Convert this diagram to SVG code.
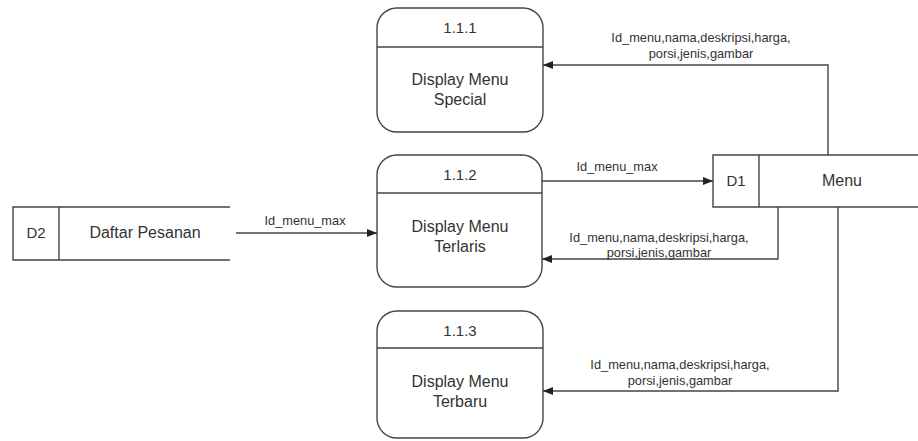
<svg xmlns="http://www.w3.org/2000/svg" width="918" height="441" viewBox="0 0 918 441">
<defs>
<style>
.box{fill:#fff;stroke:#444;stroke-width:1.4}
.ln{fill:none;stroke:#444;stroke-width:1.4}
.t{font-family:"Liberation Sans",Arial,sans-serif;fill:#333;text-anchor:middle}
.big{font-size:16px}
.hd{font-size:15px}
.lb{font-size:12.8px}
</style>
<marker id="ah" viewBox="0 0 10 8" refX="10" refY="4" markerWidth="10" markerHeight="8" markerUnits="userSpaceOnUse" orient="auto">
<path d="M0,0 L10,4 L0,8 Z" fill="#222"/>
</marker>
</defs>
<rect width="918" height="441" fill="#fff"/>

<g id="p111">
<rect class="box" x="377" y="8" width="166" height="124" rx="20"/>
<line class="ln" x1="377" y1="47" x2="543" y2="47"/>
<text class="t hd" x="460" y="33">1.1.1</text>
<text class="t big" x="460" y="85">Display Menu</text>
<text class="t big" x="460" y="105">Special</text>
</g>

<g id="p112">
<rect class="box" x="377" y="155" width="165" height="132" rx="20"/>
<line class="ln" x1="377" y1="193" x2="542" y2="193"/>
<text class="t hd" x="460" y="180">1.1.2</text>
<text class="t big" x="460" y="232">Display Menu</text>
<text class="t big" x="460" y="252">Terlaris</text>
</g>

<g id="p113">
<rect class="box" x="377" y="311" width="166" height="127" rx="20"/>
<line class="ln" x1="377" y1="348" x2="543" y2="348"/>
<text class="t hd" x="460" y="336">1.1.3</text>
<text class="t big" x="460" y="387">Display Menu</text>
<text class="t big" x="460" y="407">Terbaru</text>
</g>

<g id="d1">
<path class="ln" d="M918,155 H713 V207 H918"/>
<line class="ln" x1="759" y1="155" x2="759" y2="207"/>
<text class="t hd" x="736" y="186">D1</text>
<text class="t big" x="842" y="186">Menu</text>
</g>

<g id="d2">
<path class="ln" d="M230,207 H13 V260 H230"/>
<line class="ln" x1="59" y1="207" x2="59" y2="260"/>
<text class="t hd" x="36" y="238">D2</text>
<text class="t big" x="145" y="238">Daftar Pesanan</text>
</g>

<g id="connectors">
<path class="ln" d="M828,155 V65 H543" marker-end="url(#ah)"/>
<path class="ln" d="M542,181 H713" marker-end="url(#ah)"/>
<path class="ln" d="M778,207 V259 H542" marker-end="url(#ah)"/>
<path class="ln" d="M838,207 V391 H543" marker-end="url(#ah)"/>
<path class="ln" d="M236,233 H377" marker-end="url(#ah)"/>
<text class="t lb" x="701" y="42">Id_menu,nama,deskripsi,harga,</text>
<text class="t lb" x="701" y="58">porsi,jenis,gambar</text>
<text class="t lb" x="617" y="171">Id_menu_max</text>
<text class="t lb" x="659" y="242">Id_menu,nama,deskripsi,harga,</text>
<text class="t lb" x="659" y="257">porsi,jenis,gambar</text>
<text class="t lb" x="680" y="369">Id_menu,nama,deskripsi,harga,</text>
<text class="t lb" x="680" y="385">porsi,jenis,gambar</text>
<text class="t lb" x="305" y="225">Id_menu_max</text>
</g>
</svg>
